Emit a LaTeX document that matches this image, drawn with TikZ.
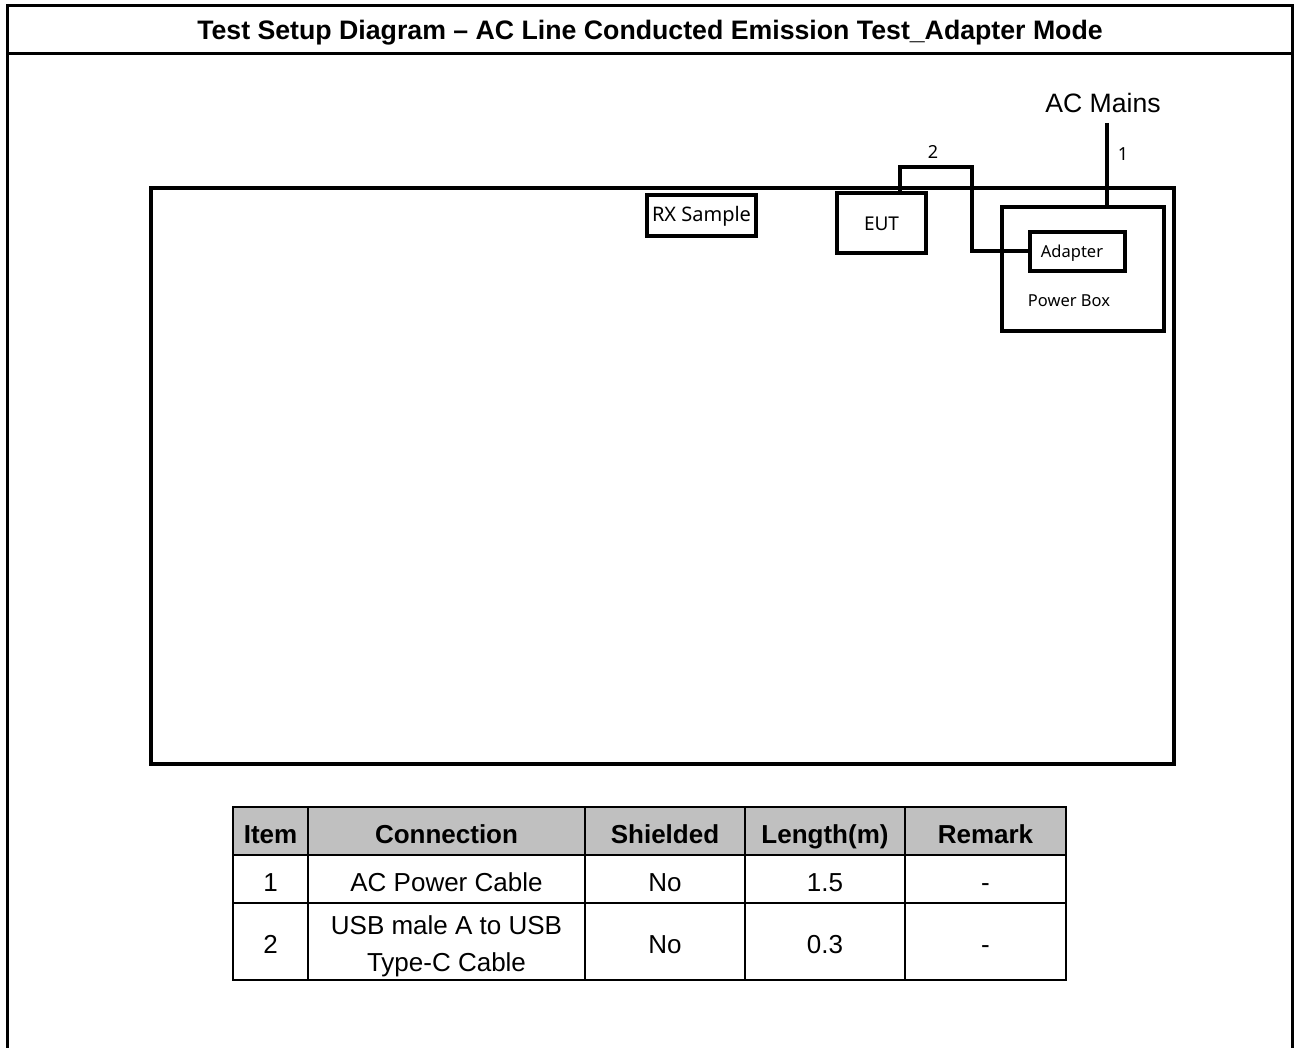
\documentclass[tikz,border=0pt]{standalone}
\usepackage{fontspec}
\setmainfont{Liberation Sans}
\newfontfamily\uifont{Noto Sans}
\newcommand\cellt[1]{\rule[-2pt]{0pt}{28pt}\smash{#1}}
\begin{document}
\begin{tikzpicture}[x=1pt,y=-1pt,
  frameline/.style={line width=3pt},
  boxline/.style={draw,line width=4pt,inner sep=0pt,outer sep=0pt},
  cable/.style={line width=4pt},
  cell/.style={draw,line width=2.5pt,anchor=north west,inner sep=0pt,outer sep=0pt,align=center,
     font=\fontsize{26}{37}\selectfont},
  hcell/.style={cell,fill=headgray,font=\fontsize{26}{37}\selectfont\bfseries},
  uitext/.style={font=\uifont\fontsize{#1}{#1}\selectfont,inner sep=0pt}
]
\definecolor{headgray}{HTML}{C0C0C0}
\useasboundingbox (0,0) rectangle (1295,1048);
\fill[white] (0,0) rectangle (1295,1048);
% outer frame
\draw[frameline] (7,1050) -- (7,6) -- (1292,6) -- (1292,1050);
\draw[frameline] (7,54) -- (1292,54);
\node[font=\fontsize{26.7}{28}\selectfont\bfseries,inner sep=0pt] (title) at (650,33)
  {Test Setup Diagram – AC Line Conducted Emission Test\_Adapter Mode};
% table (ground plane)
\node[boxline,minimum width=1023pt,minimum height=576pt,anchor=north west] (tbl) at (151,188) {};
% boxes
\node[boxline,minimum width=109pt,minimum height=41pt,anchor=north west] (rx) at (647,195) {};
\node[uitext=20] at ([yshift=-1pt]rx.center) {RX Sample};
\node[boxline,minimum width=89pt,minimum height=60pt,anchor=north west] (eut) at (837,193) {};
\node[uitext=19] at ([yshift=-1pt]eut.center) {EUT};
\node[boxline,minimum width=162pt,minimum height=124pt,anchor=north west] (pb) at (1002,207) {};
\node[uitext=16.5] (pbtext) at (1069,301) {Power Box};
\node[boxline,minimum width=95pt,minimum height=39pt,anchor=north west] (ad) at (1030,232) {};
\node[uitext=16.5] at (1072,253) {Adapter};
% AC mains
\node[font=\fontsize{26.6}{28}\selectfont,inner sep=0pt] (acm) at (1103,103) {AC Mains};
\coordinate (actop) at (1107,123);
\draw[cable] (actop) -- (actop |- pb.north);
\node[uitext=18] (l1) at (1123,154) {1};
% cable 2
\coordinate (c2a) at (900,167);
\coordinate (c2b) at (972,167);
\draw[cable,line join=miter] (c2a |- eut.north) -- (c2a) -- (c2b) -- (c2b |- ad.west) -- (ad.west);
\node[uitext=18] (l2) at (933,152) {2};
% cable table
\node[hcell,minimum width=75pt,minimum height=48pt] (h1) at (233,807) {\cellt{Item}};
\node[hcell,minimum width=277pt,minimum height=48pt] (h2) at (308,807) {\cellt{Connection}};
\node[hcell,minimum width=160pt,minimum height=48pt] (h3) at (585,807) {\cellt{Shielded}};
\node[hcell,minimum width=160pt,minimum height=48pt] (h4) at (745,807) {\cellt{Length(m)}};
\node[hcell,minimum width=161pt,minimum height=48pt] (h5) at (905,807) {\cellt{Remark}};
\node[cell,minimum width=75pt,minimum height=48pt] (a1) at (233,855) {\cellt{1}};
\node[cell,minimum width=277pt,minimum height=48pt] (a2) at (308,855) {\cellt{AC Power Cable}};
\node[cell,minimum width=160pt,minimum height=48pt] (a3) at (585,855) {\cellt{No}};
\node[cell,minimum width=160pt,minimum height=48pt] (a4) at (745,855) {\cellt{1.5}};
\node[cell,minimum width=161pt,minimum height=48pt] (a5) at (905,855) {\cellt{-}};
\node[cell,minimum width=75pt,minimum height=77pt] (b1) at (233,903) {\cellt{2}};
\node[cell,minimum width=277pt,minimum height=77pt] (b2) at (308,903) {\rule{0pt}{29pt}USB male A to USB\\Type-C Cable};
\node[cell,minimum width=160pt,minimum height=77pt] (b3) at (585,903) {\cellt{No}};
\node[cell,minimum width=160pt,minimum height=77pt] (b4) at (745,903) {\cellt{0.3}};
\node[cell,minimum width=161pt,minimum height=77pt] (b5) at (905,903) {\cellt{-}};
\end{tikzpicture}
\end{document}
